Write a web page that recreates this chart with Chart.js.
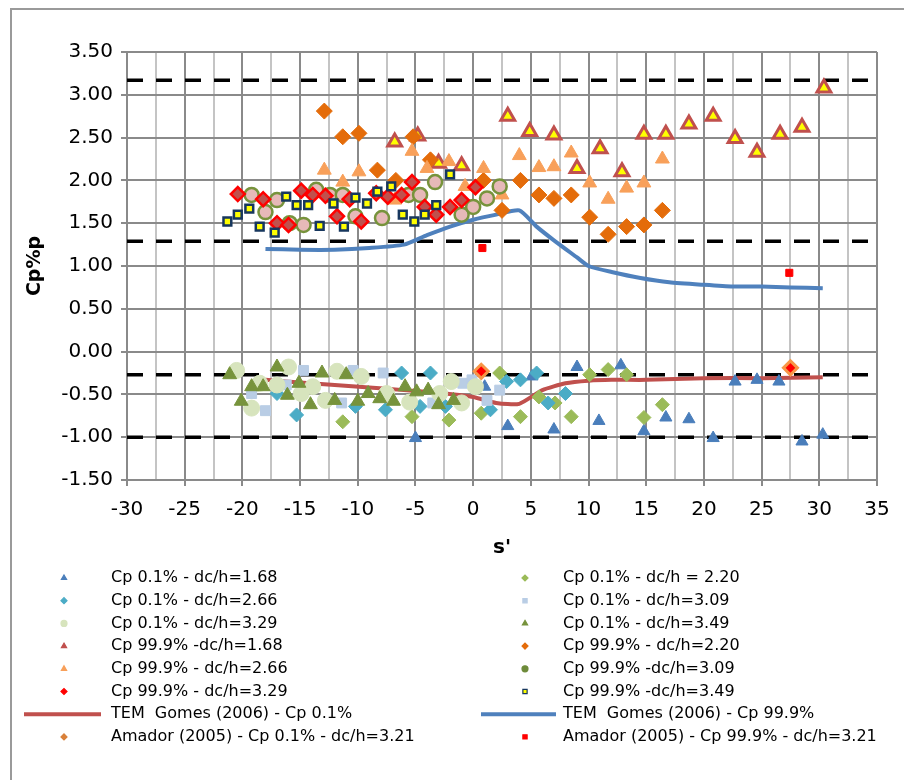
<!DOCTYPE html>
<html><head><meta charset="utf-8">
<script src="https://cdn.jsdelivr.net/npm/chart.js@4.4.1/dist/chart.umd.min.js"></script>
<style>
html,body{margin:0;padding:0;background:#fff;}
#wrap{position:relative;width:904px;height:780px;overflow:hidden;background:#fff;}
#frame{position:absolute;left:10px;top:8px;width:910px;height:800px;border:2px solid #9a9a9a;box-sizing:border-box;}
canvas{position:absolute;left:0;top:0;}
</style></head><body>
<div id="wrap"><div id="frame"></div><canvas id="c" width="904" height="780"></canvas></div>
<script>
// ---------- DATA ----------
const seriesLabels = [
  "Cp 0.1% - dc/h=1.68", "Cp 0.1% - dc/h = 2.20",
  "Cp 0.1% - dc/h=2.66", "Cp 0.1% - dc/h=3.09",
  "Cp 0.1% - dc/h=3.29", "Cp 0.1% - dc/h=3.49",
  "Cp 99.9% -dc/h=1.68", "Cp 99.9% - dc/h=2.20",
  "Cp 99.9% - dc/h=2.66", "Cp 99.9% -dc/h=3.09",
  "Cp 99.9% - dc/h=3.29", "Cp 99.9% -dc/h=3.49",
  "TEM  Gomes (2006) - Cp 0.1%", "TEM  Gomes (2006) - Cp 99.9%",
  "Amador (2005) - Cp 0.1% - dc/h=3.21", "Amador (2005) - Cp 99.9% - dc/h=3.21"
];

const lo168x = [-5.0, 1.0, 3.0, 5.1, 7.0, 9.0, 10.9, 12.8, 14.8, 16.7, 18.7, 20.8, 22.7, 24.6, 26.5, 28.5, 30.3];
const lo168y = [-1.01, -0.41, -0.87, -0.29, -0.91, -0.18, -0.81, -0.16, -0.93, -0.77, -0.79, -1.01, -0.35, -0.33, -0.35, -1.05, -0.97];

const lo220x = [-11.3, -5.3, -2.1, 0.7, 2.3, 4.1, 5.7, 7.1, 8.5, 10.1, 11.7, 13.3, 14.8, 16.4];
const lo220y = [-0.82, -0.76, -0.80, -0.72, -0.25, -0.76, -0.53, -0.60, -0.76, -0.27, -0.21, -0.27, -0.77, -0.62];

const lo266x = [-17.0, -15.3, -10.2, -7.6, -6.2, -4.6, -3.7, -2.4, 1.5, 2.9, 4.1, 5.5, 6.5, 8.0];
const lo266y = [-0.49, -0.74, -0.64, -0.68, -0.25, -0.64, -0.25, -0.64, -0.68, -0.35, -0.33, -0.25, -0.60, -0.49];

const lo309x = [-19.2, -18.0, -16.2, -14.7, -11.4, -10.4, -7.8, -3.5, -0.9, -0.1, 1.2, 2.3];
const lo309y = [-0.49, -0.69, -0.39, -0.22, -0.60, -0.22, -0.25, -0.60, -0.37, -0.33, -0.57, -0.45];

const lo329x = [-20.5, -19.2, -18.5, -17.0, -16.0, -14.9, -13.9, -12.8, -11.8, -9.7, -7.5, -5.5, -2.9, -1.9, -1.0, 0.2];
const lo329y = [-0.22, -0.66, -0.37, -0.39, -0.18, -0.49, -0.41, -0.57, -0.23, -0.29, -0.49, -0.59, -0.49, -0.35, -0.60, -0.41];

const lo349x = [-21.1, -20.1, -19.2, -18.2, -17.0, -16.1, -15.1, -14.1, -13.1, -12.0, -11.0, -10.0, -9.1, -8.1, -6.9, -5.9, -4.9, -3.9, -3.0, -1.7];
const lo349y = [-0.27, -0.58, -0.41, -0.41, -0.18, -0.51, -0.37, -0.62, -0.25, -0.57, -0.27, -0.58, -0.49, -0.55, -0.58, -0.41, -0.47, -0.45, -0.62, -0.57];

const hi168x = [-6.8, -4.8, -3.0, -1.0, 3.0, 4.9, 7.0, 9.0, 11.0, 12.9, 14.8, 16.7, 18.7, 20.8, 22.7, 24.6, 26.6, 28.5, 30.4];
const hi168y = [2.45, 2.52, 2.20, 2.17, 2.75, 2.57, 2.53, 2.14, 2.37, 2.10, 2.54, 2.54, 2.66, 2.75, 2.49, 2.33, 2.54, 2.62, 3.08];

const hi220x = [-12.9, -11.3, -9.9, -8.3, -6.7, -5.2, -3.7, 0.9, 2.5, 4.1, 5.7, 7.0, 8.5, 10.1, 11.7, 13.3, 14.8, 16.4];
const hi220y = [2.81, 2.51, 2.55, 2.12, 2.00, 2.51, 2.24, 2.00, 1.65, 2.00, 1.83, 1.79, 1.83, 1.57, 1.37, 1.46, 1.48, 1.65];

const hi266x = [-12.9, -11.3, -9.9, -6.8, -5.3, -4.0, -2.1, -0.7, 0.9, 2.5, 4.0, 5.7, 7.0, 8.5, 10.1, 11.7, 13.3, 14.8, 16.4];
const hi266y = [2.12, 1.98, 2.10, 1.77, 2.34, 2.14, 2.22, 1.93, 2.14, 1.83, 2.29, 2.15, 2.16, 2.32, 1.97, 1.78, 1.91, 1.97, 2.25];

const hi309x = [-19.2, -18.0, -17.0, -15.9, -14.7, -13.6, -12.4, -11.3, -10.2, -7.9, -5.6, -4.6, -3.3, -1.0, 0.0, 1.2, 2.3];
const hi309y = [1.83, 1.63, 1.77, 1.50, 1.48, 1.89, 1.83, 1.83, 1.58, 1.56, 1.83, 1.83, 1.98, 1.60, 1.69, 1.79, 1.93];

const hi329x = [-20.4, -18.2, -17.0, -16.0, -14.9, -13.9, -12.8, -11.8, -10.7, -9.7, -8.4, -7.4, -6.2, -5.3, -4.2, -3.2, -2.0, -1.0, 0.2];
const hi329y = [1.84, 1.78, 1.50, 1.48, 1.88, 1.83, 1.82, 1.58, 1.78, 1.52, 1.85, 1.81, 1.83, 1.98, 1.69, 1.60, 1.69, 1.77, 1.92];

const hi349x = [-21.3, -20.4, -19.4, -18.5, -17.2, -16.2, -15.3, -14.3, -13.3, -12.1, -11.2, -10.2, -9.2, -8.3, -7.1, -6.1, -5.1, -4.2, -3.2, -2.0];
const hi349y = [1.52, 1.60, 1.67, 1.46, 1.39, 1.81, 1.71, 1.71, 1.47, 1.73, 1.46, 1.80, 1.73, 1.87, 1.93, 1.60, 1.52, 1.60, 1.71, 2.07];

const temLoX = [-18, -15, -12, -9, -6, -3, 0, 2, 4, 6, 8, 10, 12, 15, 20, 25, 30.3];
const temLoY = [-0.33, -0.36, -0.39, -0.42, -0.45, -0.48, -0.53, -0.60, -0.61, -0.45, -0.37, -0.34, -0.33, -0.33, -0.31, -0.31, -0.30];

const temHiX = [-18, -15, -12, -9, -6, -4, -2, 0, 2, 4, 5.5, 7, 9, 10, 12, 14.5, 17, 20, 22.5, 25, 27.5, 30.3];
const temHiY = [1.20, 1.19, 1.19, 1.21, 1.25, 1.36, 1.46, 1.54, 1.60, 1.65, 1.46, 1.30, 1.10, 1.00, 0.93, 0.86, 0.81, 0.78, 0.76, 0.76, 0.75, 0.74];

const amaLoX = [0.7, 27.5];
const amaLoY = [-0.23, -0.19];
const amaHiX = [0.8, 27.4];
const amaHiY = [1.21, 0.92];

const refLevels = [3.17, 1.29, -0.27, -1.0];
const xRange = [-30, 35];
const yRange = [-1.5, 3.5];

// ---------- BUILD ----------
const pts = (xs, ys) => xs.map((x, i) => ({x, y: ys[i]}));
const FONT = '"DejaVu Sans", Verdana, sans-serif';

const markerStyles = [
  {pointStyle:'triangle', radius:7, bg:'#4A7EBB', bd:'#4A7EBB', bw:1},
  {pointStyle:'rectRot', radius:7, bg:'#9BBB59', bd:'#9BBB59', bw:1},
  {pointStyle:'rectRot', radius:7, bg:'#4BACC6', bd:'#4BACC6', bw:1},
  {pointStyle:'rect', radius:7, bg:'#B9CDE5', bd:'#B9CDE5', bw:1},
  {pointStyle:'circle', radius:8, bg:'#D7E4BD', bd:'#D7E4BD', bw:1},
  {pointStyle:'triangle', radius:8, bg:'#77933C', bd:'#77933C', bw:1},
  {pointStyle:'triangle', radius:8, bg:'#FFFF00', bd:'#C0504D', bw:3, lg:'#C0504D'},
  {pointStyle:'rectRot', radius:8, bg:'#E46C0A', bd:'#E46C0A', bw:1},
  {pointStyle:'triangle', radius:8, bg:'#F8A05A', bd:'#F8A05A', bw:1},
  {pointStyle:'circle', radius:7, bg:'#E6B9B8', bd:'#77933C', bw:2.5, lg:'#6E8B3A'},
  {pointStyle:'rectRot', radius:7, bg:'#C0504D', bd:'#FF0000', bw:2.5, lg:'#FF0000'},
  {pointStyle:'rect', radius:5.5, bg:'#FFFF00', bd:'#17375E', bw:2.5}
];
const scatterData = [
  [lo168x, lo168y], [lo220x, lo220y], [lo266x, lo266y], [lo309x, lo309y],
  [lo329x, lo329y], [lo349x, lo349y], [hi168x, hi168y], [hi220x, hi220y],
  [hi266x, hi266y], [hi309x, hi309y], [hi329x, hi329y], [hi349x, hi349y]
];

const datasets = [];
// dashed reference lines (not in legend)
refLevels.forEach(v => {
  datasets.push({
    label: '', inLegend: false, showLine: true, order: 3000,
    data: [{x: xRange[0], y: v}, {x: xRange[1], y: v}],
    borderColor: '#000', borderWidth: 3.5, borderDash: [16, 13],
    pointRadius: 0, fill: false
  });
});
scatterData.forEach((d, i) => {
  const m = markerStyles[i];
  datasets.push({
    label: seriesLabels[i], inLegend: true, showLine: false, order: 1000 - i,
    data: pts(d[0], d[1]),
    pointStyle: m.pointStyle, pointRadius: m.radius,
    backgroundColor: m.bg, borderColor: m.bd, pointBorderWidth: m.bw, borderWidth: m.bw,
    legendBg: m.lg
  });
});
datasets.push({label: seriesLabels[12], inLegend: true, showLine: true, order: 2001, data: pts(temLoX, temLoY),
  borderColor: '#C0504D', backgroundColor: '#C0504D', borderWidth: 4, pointRadius: 0, tension: 0.2});
datasets.push({label: seriesLabels[13], inLegend: true, showLine: true, order: 2000, data: pts(temHiX, temHiY),
  borderColor: '#4F81BD', backgroundColor: '#4F81BD', borderWidth: 4, pointRadius: 0, tension: 0.2});
datasets.push({label: seriesLabels[14], inLegend: true, showLine: false, order: 10, data: pts(amaLoX, amaLoY),
  pointStyle: 'rectRot', pointRadius: 7, backgroundColor: '#FF0000', borderColor: '#F79646', pointBorderWidth: 3, borderWidth: 3,
  legendBg: '#D9803A'});
datasets.push({label: seriesLabels[15], inLegend: true, showLine: false, order: 9, data: pts(amaHiX, amaHiY),
  pointStyle: 'rect', pointRadius: 5, backgroundColor: '#FF0000', borderColor: '#FF0000', pointBorderWidth: 1, borderWidth: 1});

const legendPlugin = {
  id: 'twoColLegend',
  afterDraw(chart) {
    const ctx = chart.ctx;
    const items = chart.data.datasets.filter(d => d.inLegend);
    ctx.save();
    ctx.font = '16px ' + FONT;
    ctx.textBaseline = 'middle';
    ctx.textAlign = 'left';
    items.forEach((d, i) => {
      const col = i % 2, row = Math.floor(i / 2);
      const y = 578 + row * 22.7;
      const mx = col ? 525 : 64;
      const tx = col ? 563 : 111;
      if (d.showLine) {
        ctx.beginPath();
        ctx.strokeStyle = d.borderColor;
        ctx.lineWidth = 4;
        ctx.moveTo(col ? 481 : 24, y);
        ctx.lineTo(col ? 556 : 101, y);
        ctx.stroke();
      } else {
        ctx.lineWidth = 1.2;
        ctx.setLineDash([]);
        ctx.fillStyle = d.legendBg || d.backgroundColor;
        ctx.strokeStyle = d.legendBg || d.borderColor;
        Chart.helpers.drawPoint(ctx, {pointStyle: d.pointStyle, radius: 3, borderWidth: 1.2, rotation: 0}, mx, y);
      }
      ctx.fillStyle = '#000';
      ctx.fillText(d.label, tx, y);
    });
    ctx.restore();
  }
};

new Chart(document.getElementById('c'), {
  type: 'scatter',
  data: {datasets},
  plugins: [legendPlugin],
  options: {
    responsive: false, animation: false,
    layout: {padding: {left: 10, top: 52, right: 27, bottom: 220}},
    plugins: {legend: {display: false}, tooltip: {enabled: false}},
    scales: {
      x: {
        type: 'linear', min: xRange[0], max: xRange[1],
        afterFit: s => { s.height = 80; },
        ticks: {stepSize: 2.5, autoSkip: false, maxRotation: 0, padding: 12, color: '#000',
          font: {family: FONT, size: 20},
          callback: v => (Math.abs(v % 5) < 1e-9 ? String(v) : '')},
        grid: {lineWidth: 2, tickLength: 6,
          color: c => (c.tick && Math.abs(c.tick.value % 5) < 1e-9 ? '#8A8A8A' : '#C4C4C4'),
          tickColor: c => (c.tick && Math.abs(c.tick.value % 5) < 1e-9 ? '#8A8A8A' : 'rgba(0,0,0,0)')},
        border: {color: '#8A8A8A', width: 2},
        title: {display: true, text: "s'", color: '#000', font: {family: FONT, size: 20, weight: 'bold'}, padding: {top: 0, bottom: 0}}
      },
      y: {
        type: 'linear', min: yRange[0], max: yRange[1],
        afterFit: s => { s.width = 117; },
        ticks: {stepSize: 0.5, padding: 8, color: '#000', font: {family: FONT, size: 20},
          callback: v => Number(v).toFixed(2)},
        grid: {lineWidth: 2, tickLength: 6, color: '#8A8A8A', tickColor: '#8A8A8A'},
        border: {color: '#8A8A8A', width: 2},
        title: {display: true, text: 'Cp%p', color: '#000', font: {family: FONT, size: 19, weight: 'bold'}, padding: {top: 14, bottom: 0}}
      }
    }
  }
});
</script>
</body></html>
